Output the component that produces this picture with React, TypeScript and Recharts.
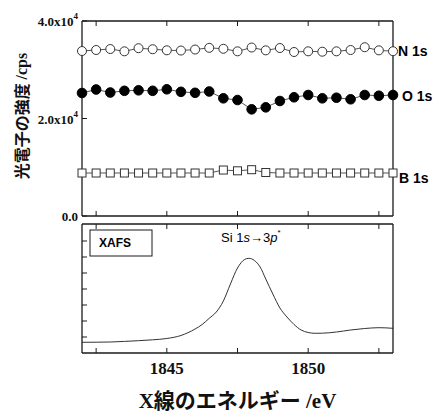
import { LineChart, Line, XAxis, YAxis } from 'recharts';

// photoelectron intensities vs photon energy (0.5 eV steps)
const energies = [
  1842, 1842.5, 1843, 1843.5, 1844, 1844.5, 1845, 1845.5, 1846, 1846.5, 1847, 1847.5,
  1848, 1848.5, 1849, 1849.5, 1850, 1850.5, 1851, 1851.5, 1852, 1852.5, 1853,
];
const n1s = [
  33840, 34050, 34250, 33780, 34420, 34210, 33990, 33940, 34150, 34500, 34300, 33780,
  34560, 33980, 34460, 33640, 33780, 33700, 33780, 34050, 34620, 33980, 33800,
];
const o1s = [
  25230, 25950, 25330, 25680, 25780, 25680, 25990, 25470, 25270, 25540, 24140, 23790,
  21880, 22290, 23590, 24350, 24820, 24140, 24260, 23940, 24820, 24670, 24820,
];
const b1s = [
  8820, 8820, 8820, 8820, 8820, 8820, 8820, 8820, 8820, 8820, 9430, 9270,
  9500, 8920, 8820, 8820, 8820, 8820, 8820, 8820, 8820, 8820, 8820,
];

// XAFS spectrum (arbitrary units)
const xafsEnergy = [
  1842, 1842.5, 1843, 1843.5, 1844, 1844.5, 1845, 1845.5, 1846, 1846.25, 1846.5, 1846.75,
  1847, 1847.25, 1847.5, 1847.75, 1847.9, 1848.1, 1848.3, 1848.5, 1848.75, 1849, 1849.25,
  1849.5, 1849.75, 1850, 1850.25, 1850.5, 1851, 1851.5, 1852, 1852.5, 1853,
];
const xafsIntensity = [
  10.7, 10.8, 11, 11.6, 12.3, 13.2, 14.5, 17.5, 24, 28.5, 34.7, 41,
  52, 69, 85, 93.5, 94.7, 92.5, 86, 74, 59, 45, 36,
  28.5, 23, 20.5, 19.7, 19.8, 21, 23, 24.5, 25.3, 24.7,
];

const xTicks = [1842.5, 1845, 1847.5, 1850, 1852.5];
const xLabels = [1845, 1850];
const topYTicks = [0, 20000, 40000];
const topYTicksRight = [18000, 30000];
const xafsTicks = [16, 32, 48, 64, 80, 96, 112];

const INK = '#1a1a1a';
const serif = '"Liberation Serif", "Times New Roman", serif';
const sans = '"Liberation Sans", Arial, sans-serif';

const topData = energies.map((e, i) => ({ e, n: n1s[i], o: o1s[i], b: b1s[i] }));
const xafsData = xafsEnergy.map((e, i) => ({ e, v: xafsIntensity[i] }));

const serifBold = { fontFamily: serif, fontWeight: 700, fill: '#111' };

const xTick = (dir: number, labels: boolean) => (p: any) => (
  <g>
    <line x1={p.x} x2={p.x} y1={p.y} y2={p.y + dir * 5} stroke={INK} strokeWidth={1} />
    {labels && xLabels.includes(p.payload.value) && (
      <text x={p.x} y={p.y + 15} textAnchor="middle" dominantBaseline="central" style={{ ...serifBold, fontSize: 17 }}>
        {p.payload.value}
      </text>
    )}
  </g>
);

const yTick = (dir: number, labels: boolean) => (p: any) => (
  <g>
    <line x1={p.x} x2={p.x + dir * 5} y1={p.y} y2={p.y} stroke={INK} strokeWidth={1} />
    {labels && (
      <text x={p.x - 4} y={p.y} textAnchor="end" dominantBaseline="central" style={{ ...serifBold, fontSize: 13 }}>
        {p.payload.value === 0 ? (
          '0.0'
        ) : (
          <>
            <tspan>{(p.payload.value / 10000).toFixed(1)}x10</tspan>
            <tspan dy={-5} style={{ fontSize: 9 }}>4</tspan>
          </>
        )}
      </text>
    )}
  </g>
);

const openCircle = (p: any) => (
  <circle key={`n-${p.index}`} cx={p.cx} cy={p.cy} r={4.5} fill="#fff" stroke="#333" strokeWidth={1} />
);
const filledCircle = (p: any) => (
  <circle key={`o-${p.index}`} cx={p.cx} cy={p.cy} r={4.8} fill="#000" stroke="#000" strokeWidth={1} />
);
const openSquare = (p: any) => (
  <rect key={`b-${p.index}`} x={p.cx - 4} y={p.cy - 4} width={8} height={8} fill="#fff" stroke="#333" strokeWidth={1} />
);

const axisLine = { stroke: INK, strokeWidth: 1.3 };
const axisCommon = { tickSize: 0, tickMargin: 0, axisLine, tickLine: false, interval: 0 as const };

export default function App() {
  return (
    <div style={{ position: 'absolute', left: 0, top: 0, width: 433, height: 412, overflow: 'hidden', background: '#fff' }}>
      <div style={{ position: 'absolute', left: 0, top: 0 }}>
        <LineChart width={433} height={230} data={topData} margin={{ top: 20, right: 39, bottom: 13, left: 81 }}>
          <XAxis dataKey="e" type="number" domain={[1842, 1853]} ticks={xTicks} height={1}
            {...axisCommon} tick={xTick(-1, false)} />
          <XAxis xAxisId="top" orientation="top" dataKey="e" type="number" domain={[1842, 1853]} ticks={xTicks} height={1}
            {...axisCommon} tick={xTick(1, false)} />
          <YAxis type="number" domain={[0, 40000]} ticks={topYTicks} width={1}
            {...axisCommon} tick={yTick(1, true)} />
          <YAxis yAxisId="r" orientation="right" type="number" domain={[0, 40000]} ticks={topYTicksRight} width={1}
            {...axisCommon} tick={yTick(-1, false)} />
          <Line dataKey="n" stroke="#555" strokeWidth={1} dot={openCircle} isAnimationActive={false} />
          <Line dataKey="o" stroke="#555" strokeWidth={1} dot={filledCircle} isAnimationActive={false} />
          <Line dataKey="b" stroke="#555" strokeWidth={1} dot={openSquare} isAnimationActive={false} />
        </LineChart>
      </div>
      <div style={{ position: 'absolute', left: 0, top: 216 }}>
        <LineChart width={433} height={196} data={xafsData} margin={{ top: 7, right: 39, bottom: 58, left: 81 }}>
          <XAxis dataKey="e" type="number" domain={[1842, 1853]} ticks={xTicks} height={1}
            {...axisCommon} tick={xTick(-1, true)} />
          <XAxis xAxisId="top" orientation="top" dataKey="e" type="number" domain={[1842, 1853]} ticks={xTicks} height={1}
            {...axisCommon} tick={xTick(1, false)} />
          <YAxis type="number" domain={[0, 129]} ticks={xafsTicks} width={1}
            {...axisCommon} tick={yTick(1, false)} />
          <YAxis yAxisId="r" orientation="right" type="number" domain={[0, 129]} ticks={xafsTicks} width={1}
            {...axisCommon} tick={yTick(-1, false)} />
          <Line dataKey="v" type="monotone" stroke="#333" strokeWidth={1} dot={false} isAnimationActive={false} />
        </LineChart>
      </div>
      <svg width={433} height={412} style={{ position: 'absolute', left: 0, top: 0, pointerEvents: 'none' }}>
        <text transform="translate(21,116) rotate(-90)" textAnchor="middle" dominantBaseline="central"
          fontFamily='"Noto Sans CJK JP", sans-serif' fontWeight="bold" fontSize={16} fill="#111">
          光電子の強度 <tspan fontFamily={serif}>/cps</tspan>
        </text>
        <g fontFamily={sans} fontWeight="bold" fontSize={14} fill="#000">
          <text x={398} y={51} dominantBaseline="central">N 1s</text>
          <text x={402} y={96} dominantBaseline="central">O 1s</text>
          <text x={399} y={178} dominantBaseline="central">B 1s</text>
        </g>
        <rect x={90} y={230} width={62} height={26} fill="#fff" stroke={INK} strokeWidth={1} />
        <text x={99} y={243} dominantBaseline="central" fontFamily={sans} fontWeight="bold" fontSize={12} fill="#000">XAFS</text>
        <text x={221} y={237} dominantBaseline="central" fontFamily={sans} fontSize={13} fill="#000">
          Si 1<tspan fontStyle="italic">s</tspan>→3<tspan fontStyle="italic">p</tspan>
          <tspan dy={-5} fontSize={8}>*</tspan>
        </text>
        <text x={237.5} y={401} textAnchor="middle" dominantBaseline="central"
          fontFamily={`${serif}, "Noto Sans CJK JP"`} fontWeight="bold" fontSize={21} fill="#111">
          X線のエネルギー /eV
        </text>
      </svg>
    </div>
  );
}
